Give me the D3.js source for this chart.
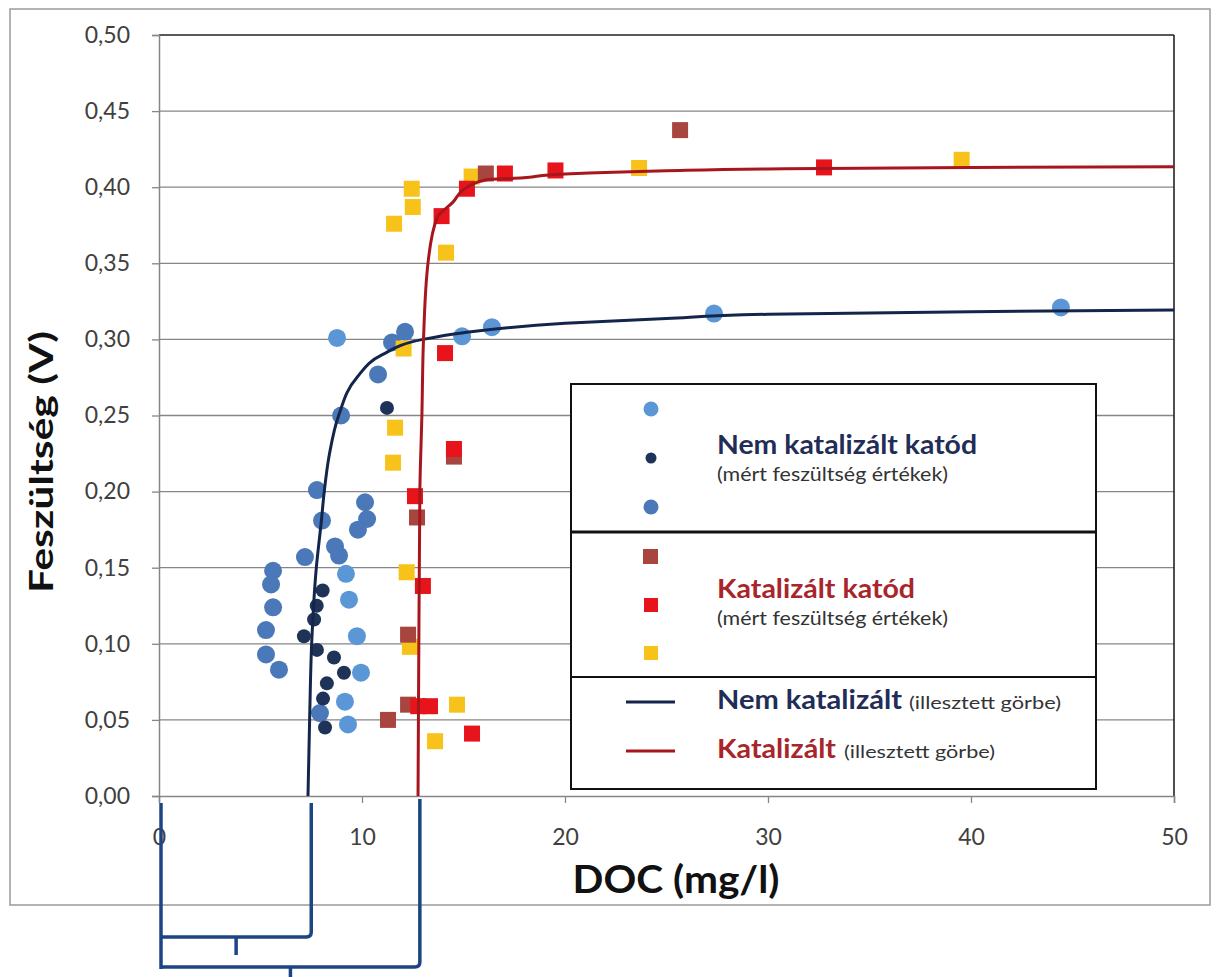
<!DOCTYPE html>
<html>
<head>
<meta charset="utf-8">
<script src="https://cdn.jsdelivr.net/npm/d3@7"></script>
<style>
  body { margin: 0; background: #fff; }
  svg { display: block; font-family: Lato, "Open Sans", sans-serif; }
</style>
</head>
<body>
<svg id="chart" width="1218" height="977"></svg>
<script>
// ---------- data ----------
const xTicks = [0, 10, 20, 30, 40, 50];
const yTicks = [0, 0.05, 0.10, 0.15, 0.20, 0.25, 0.30, 0.35, 0.40, 0.45, 0.50];

// Nem katalizált katód (mért feszültség értékek) – three measurement series
const nemLight = [[9.21,0.146],[9.36,0.129],[9.75,0.105],[9.95,0.081],[9.16,0.062],[9.31,0.047],
                  [8.77,0.301],[14.93,0.302],[16.4,0.308],[27.34,0.317],[44.43,0.321]];
const nemDark  = [[8.06,0.135],[7.77,0.125],[7.64,0.116],[7.14,0.105],[7.78,0.096],[8.62,0.091],
                  [9.11,0.081],[8.27,0.074],[8.08,0.064],[8.18,0.045],[11.23,0.255]];
const nemMid   = [[8.97,0.250],[7.78,0.201],[8.03,0.181],[7.19,0.157],[8.67,0.164],[8.87,0.158],
                  [5.62,0.148],[5.52,0.139],[5.62,0.124],[5.27,0.109],[5.27,0.093],[5.91,0.083],
                  [10.15,0.193],[10.25,0.182],[9.80,0.175],[11.48,0.298],[12.12,0.305],[10.79,0.277],
                  [7.93,0.0545]];

// Katalizált katód (mért feszültség értékek)
const katBrown  = [[25.67,0.4375],[16.1,0.409],[12.27,0.106],[12.71,0.183],[11.28,0.050],[12.27,0.060],[14.53,0.223]];
const katRed    = [[12.61,0.197],[14.53,0.228],[13.0,0.138],[12.77,0.059],[13.35,0.059],[15.42,0.041],
                   [13.92,0.381],[15.17,0.399],[17.04,0.409],[19.53,0.411],[32.76,0.413],[14.09,0.291]];
const katYellow = [[11.63,0.242],[11.53,0.219],[12.2,0.147],[12.36,0.098],[14.68,0.060],[13.6,0.036],
                   [12.45,0.399],[12.5,0.387],[11.58,0.376],[14.14,0.357],[15.4,0.407],[23.65,0.4126],
                   [39.54,0.418],[12.05,0.294]];

// Illesztett görbék
const fitNem = [[7.34,0],[7.42,0.05],[7.52,0.10],[7.75,0.15],[8.0,0.181],[8.14,0.20],[8.4,0.225],
                [8.85,0.25],[9.75,0.275],[11.0,0.29],[13.0,0.30],[15,0.3044],[20,0.3106],[25,0.3138],
                [30,0.3165],[40,0.3182],[50,0.3193]];
const fitKat = [[12.76,0],[12.8,0.10],[12.85,0.20],[12.95,0.25],[13.03,0.30],[13.25,0.35],[13.7,0.38],
                [14.47,0.39],[15.17,0.40],[16.2,0.405],[17.5,0.4058],[20,0.4087],[25,0.4108],
                [30,0.412],[40,0.413],[50,0.4135]];

// bracket annotation x-values (DOC thresholds)
const bracketX = [0, 7.5, 12.85];

// ---------- drawing ----------
const svg = d3.select("#chart");
const x = d3.scaleLinear().domain([0, 50]).range([159, 1174]);
const y = d3.scaleLinear().domain([0, 0.5]).range([796, 35]);
const fmt = v => d3.format(".2f")(v).replace(".", ",");

// outer frame
svg.append("rect").attr("x", 10).attr("y", 9).attr("width", 1200).attr("height", 896)
  .attr("fill", "#fff").attr("stroke", "#9a9a9a").attr("stroke-width", 1.5);

// gridlines
svg.append("g").selectAll("line").data(yTicks.filter(v => v > 0 && v < 0.5)).join("line")
  .attr("x1", x(0)).attr("x2", x(50)).attr("y1", d => y(d)).attr("y2", d => y(d))
  .attr("stroke", "#868686").attr("stroke-width", 1.3);

// plot border top & right
svg.append("line").attr("x1", x(0)).attr("x2", x(50)).attr("y1", y(0.5)).attr("y2", y(0.5))
  .attr("stroke", "#222").attr("stroke-width", 1.6);
svg.append("line").attr("x1", x(50)).attr("x2", x(50)).attr("y1", y(0.5)).attr("y2", y(0))
  .attr("stroke", "#222").attr("stroke-width", 1.6);

// axes
const yAxis = svg.append("g").attr("transform", `translate(${x(0)},0)`)
  .call(d3.axisLeft(y).tickValues(yTicks).tickFormat(fmt).tickSize(7).tickPadding(22));
const xAxis = svg.append("g").attr("transform", `translate(0,${y(0)})`)
  .call(d3.axisBottom(x).tickValues(xTicks).tickFormat(d3.format("d")).tickSize(7).tickPadding(26));
[yAxis, xAxis].forEach(g => {
  g.select(".domain").attr("stroke", "#868686").attr("stroke-width", 1.5);
  g.selectAll(".tick line").attr("stroke", "#868686").attr("stroke-width", 1.3);
  g.selectAll(".tick text").attr("fill", "#404040").style("font-size", "23px")
    .style("font-family", "Lato, 'Open Sans', sans-serif");
});

// axis titles
svg.append("text").attr("transform", `translate(53,462) rotate(-90)`)
  .attr("text-anchor", "middle").style("font-size", "33px").style("font-weight", "bold")
  .attr("fill", "#111").attr("textLength", 262).attr("lengthAdjust", "spacingAndGlyphs")
  .text("Feszültség (V)");
svg.append("text").attr("x", 676).attr("y", 893).attr("text-anchor", "middle")
  .style("font-size", "38px").style("font-weight", "bold").attr("fill", "#111")
  .attr("textLength", 207).attr("lengthAdjust", "spacingAndGlyphs").text("DOC (mg/l)");

// markers
const circles = (data, color, r) => svg.append("g").selectAll("circle").data(data).join("circle")
  .attr("cx", d => x(d[0])).attr("cy", d => y(d[1])).attr("r", r).attr("fill", color);
const squares = (data, color, s) => svg.append("g").selectAll("rect").data(data).join("rect")
  .attr("x", d => x(d[0]) - s/2).attr("y", d => y(d[1]) - s/2).attr("width", s).attr("height", s)
  .attr("fill", color);

const cLight = "#5b97d6", cDark = "#1f3358", cMid = "#4a78b8";
const cBrown = "#a8453f", cRed = "#e8141c", cYellow = "#f7c21a";
const cLineNem = "#14254b", cLineKat = "#a8161d";

circles(nemMid, cMid, 9);
circles(nemLight, cLight, 9);
circles(nemDark, cDark, 7);
squares(katYellow, cYellow, 16);
squares(katBrown, cBrown, 16);
squares(katRed, cRed, 16);

// fitted curves
const line = d3.line().x(d => x(d[0])).y(d => y(d[1])).curve(d3.curveMonotoneY);
svg.append("path").datum(fitNem).attr("d", line).attr("fill", "none")
  .attr("stroke", cLineNem).attr("stroke-width", 3);
svg.append("path").datum(fitKat).attr("d", line).attr("fill", "none")
  .attr("stroke", cLineKat).attr("stroke-width", 3);

// legend
const lg = svg.append("g");
lg.append("rect").attr("x", 571).attr("y", 384).attr("width", 525).attr("height", 405)
  .attr("fill", "#fff").attr("stroke", "#111").attr("stroke-width", 2);
lg.append("line").attr("x1", 571).attr("x2", 1096).attr("y1", 532).attr("y2", 532)
  .attr("stroke", "#111").attr("stroke-width", 3);
lg.append("line").attr("x1", 571).attr("x2", 1096).attr("y1", 677).attr("y2", 677)
  .attr("stroke", "#111").attr("stroke-width", 2);

lg.append("circle").attr("cx", 651).attr("cy", 409).attr("r", 7.5).attr("fill", cLight);
lg.append("circle").attr("cx", 651).attr("cy", 458).attr("r", 5.5).attr("fill", cDark);
lg.append("circle").attr("cx", 651).attr("cy", 507).attr("r", 7.5).attr("fill", cMid);
lg.append("rect").attr("x", 643).attr("y", 549).attr("width", 15).attr("height", 15).attr("fill", cBrown);
lg.append("rect").attr("x", 644).attr("y", 598).attr("width", 14).attr("height", 14).attr("fill", cRed);
lg.append("rect").attr("x", 644).attr("y", 646).attr("width", 14).attr("height", 14).attr("fill", cYellow);
lg.append("line").attr("x1", 626).attr("x2", 675).attr("y1", 702).attr("y2", 702)
  .attr("stroke", cLineNem).attr("stroke-width", 3);
lg.append("line").attr("x1", 626).attr("x2", 675).attr("y1", 751).attr("y2", 751)
  .attr("stroke", cLineKat).attr("stroke-width", 3);

const navyTxt = "#1f2d57", redTxt = "#a8262b";
const ltext = (tx, ty, size, bold, color, len, str) =>
  lg.append("text").attr("x", tx).attr("y", ty).style("font-size", size + "px")
    .style("font-weight", bold ? "bold" : "normal").attr("fill", color)
    .attr("textLength", len).attr("lengthAdjust", "spacingAndGlyphs").text(str);

ltext(717, 454, 26, true, navyTxt, 260, "Nem katalizált katód");
ltext(717, 481, 19, false, "#333", 231, "(mért feszültség értékek)");
ltext(717, 598, 26, true, redTxt, 198, "Katalizált katód");
ltext(717, 625, 19, false, "#333", 231, "(mért feszültség értékek)");
ltext(717, 709, 26, true, navyTxt, 185, "Nem katalizált");
ltext(909, 709, 18, false, "#333", 152, "(illesztett görbe)");
ltext(717, 758, 26, true, redTxt, 119, "Katalizált");
ltext(844, 758, 18, false, "#333", 151, "(illesztett görbe)");

// bracket annotation below the axis
const bc = "#1c4584";
const bx0 = x(bracketX[0]) + 2, bx1 = x(bracketX[1]), bx2 = x(bracketX[2]);
const br = svg.append("g").attr("fill", "none").attr("stroke", bc).attr("stroke-width", 3.5);
br.append("line").attr("x1", bx0).attr("x2", bx0).attr("y1", 803).attr("y2", 969);
br.append("path").attr("d", `M${bx1},803 V932 q0,5 -5,5 H${bx0}`);
br.append("line").attr("x1", (bx0+bx1)/2).attr("x2", (bx0+bx1)/2).attr("y1", 937).attr("y2", 955);
br.append("path").attr("d", `M${bx2},799 V962 q0,5 -5,5 H${bx0}`);
br.append("line").attr("x1", (bx0+bx2)/2).attr("x2", (bx0+bx2)/2).attr("y1", 967).attr("y2", 977);
</script>
</body>
</html>
